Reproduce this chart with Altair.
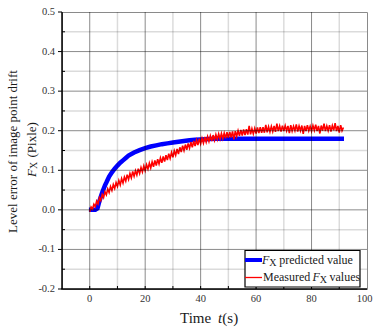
import altair as alt
import pandas as pd

# ---- data ----
BLUE_T = [-0.3, 0, 1, 2, 2.8, 3.4, 4, 4.6, 5.5, 6, 7, 8, 9, 10, 11, 12, 13, 14, 16, 18,
          20, 22, 24, 26, 28, 30, 32, 34, 36, 38, 40, 43, 46, 50, 91.7]
BLUE_V = [0, 0, 0, 0, 0.004, 0.02, 0.033, 0.046, 0.062, 0.069, 0.084, 0.095, 0.104, 0.112,
          0.119, 0.125, 0.131, 0.137, 0.145, 0.151, 0.156, 0.160, 0.163, 0.166, 0.168,
          0.170, 0.172, 0.174, 0.176, 0.177, 0.178, 0.179, 0.180, 0.180, 0.180]

RED_V = [
    -0.005, 0.007, 0.002, 0.014, 0.008, 0.022, 0.015, 0.031, 0.024, 0.039,
    0.031, 0.046, 0.038, 0.053, 0.044, 0.059, 0.049, 0.064, 0.054, 0.069,
    0.059, 0.074, 0.063, 0.079, 0.068, 0.083, 0.073, 0.089, 0.077, 0.092,
    0.081, 0.097, 0.085, 0.099, 0.088, 0.104, 0.092, 0.107, 0.096, 0.111,
    0.099, 0.114, 0.103, 0.118, 0.106, 0.121, 0.109, 0.125, 0.112, 0.128,
    0.116, 0.131, 0.119, 0.135, 0.122, 0.138, 0.126, 0.142, 0.130, 0.145,
    0.133, 0.149, 0.138, 0.154, 0.141, 0.158, 0.146, 0.162, 0.150, 0.165,
    0.152, 0.168, 0.156, 0.171, 0.158, 0.174, 0.161, 0.176, 0.164, 0.180,
    0.167, 0.181, 0.169, 0.184, 0.171, 0.185, 0.173, 0.187, 0.174, 0.189,
    0.176, 0.190, 0.178, 0.192, 0.179, 0.193, 0.180, 0.194, 0.181, 0.196,
    0.182, 0.197, 0.183, 0.198, 0.178, 0.199, 0.186, 0.200, 0.187, 0.202,
    0.188, 0.203, 0.189, 0.204, 0.190, 0.212, 0.191, 0.205, 0.192, 0.206,
    0.193, 0.208, 0.194, 0.209, 0.195, 0.209, 0.195, 0.215, 0.196, 0.210,
    0.197, 0.211, 0.198, 0.212, 0.197, 0.218, 0.199, 0.212, 0.198, 0.213,
    0.199, 0.213, 0.200, 0.212, 0.194, 0.214, 0.199, 0.211, 0.200, 0.216,
    0.198, 0.212, 0.200, 0.213, 0.192, 0.212, 0.199, 0.214, 0.200, 0.211,
    0.199, 0.213, 0.201, 0.215, 0.199, 0.212, 0.193, 0.213, 0.200, 0.218,
    0.199, 0.212, 0.200, 0.214, 0.198, 0.213, 0.201, 0.219, 0.199, 0.212,
    0.195, 0.214, 0.200, 0.208,
]
RED_STEP = 0.5  # sampling interval in seconds
RED_T = [i * RED_STEP for i in range(len(RED_V))]

X_TICKS = [0, 20, 40, 60, 80]
X_LABELS = ["0", "20", "40", "60", "80"]
X_LAST_TICK = [100]
X_LAST_LABEL = ["100"]
Y_TICKS = [-0.2, -0.1, 0.0, 0.1, 0.2, 0.3, 0.4, 0.5]
Y_LABELS = ["-0.2", "-0.1", "0.0", "0.1", "0.2", "0.3", "0.4", "0.5"]
GRID_MAJOR_X = [0, 20, 40, 60, 80]
GRID_MINOR_X = [10, 30, 50, 70, 90]
GRID_MAJOR_Y = [-0.1, 0.0, 0.1, 0.2, 0.3, 0.4]
GRID_MINOR_Y = [-0.15, -0.05, 0.05, 0.15, 0.25, 0.35, 0.45]
X_INNER_TICKS = [0, 10, 20, 30, 40, 50, 60, 70, 80, 90]

FONT = "Liberation Serif"
W, H = 305, 277
MAJOR = "#8a8a8a"

xs = alt.Scale(domain=[-10, 100], nice=False, zero=False)
ys = alt.Scale(domain=[-0.2, 0.5], nice=False, zero=False)


def XF(f):
    return alt.X(f, scale=xs, axis=None)


def YF(f):
    return alt.Y(f, scale=ys, axis=None)


blue_df = pd.DataFrame({"t": BLUE_T, "v": BLUE_V})
red_df = pd.DataFrame({"t": RED_T, "v": RED_V})
one = pd.DataFrame({"a": [0]})

blue = alt.Chart(blue_df).mark_line(color="#0000ff", strokeWidth=4.5, strokeCap="butt").encode(
    x=XF("t:Q"), y=YF("v:Q"))
red = alt.Chart(red_df).mark_line(color="#ff0000", strokeWidth=1.6).encode(
    x=XF("t:Q"), y=YF("v:Q"))

# grid lines: translucent black so the curves stay visible beneath them
minor_vx = alt.Chart(pd.DataFrame({"gx": GRID_MINOR_X})).mark_rule(
    color="black", strokeOpacity=0.14, strokeWidth=1.5).encode(
    x=XF("gx:Q"), y=alt.value(0), y2=alt.value(H))
minor_hy = alt.Chart(pd.DataFrame({"gy": GRID_MINOR_Y})).mark_rule(
    color="black", strokeOpacity=0.14, strokeWidth=1.5).encode(
    y=YF("gy:Q"), x=alt.value(0), x2=alt.value(W))
major_vx = alt.Chart(pd.DataFrame({"gx": GRID_MAJOR_X})).mark_rule(
    color="black", strokeOpacity=0.46, strokeWidth=1).encode(
    x=XF("gx:Q"), y=alt.value(0), y2=alt.value(H))
major_hy = alt.Chart(pd.DataFrame({"gy": GRID_MAJOR_Y})).mark_rule(
    color="black", strokeOpacity=0.46, strokeWidth=1).encode(
    y=YF("gy:Q"), x=alt.value(0), x2=alt.value(W))

# axis lines, ticks and tick labels
left_dom = alt.Chart(one).mark_rule(color="black", strokeWidth=1.5).encode(
    x=alt.value(0), y=alt.value(0), y2=alt.value(H))
bottom_dom = alt.Chart(one).mark_rule(color="black", strokeWidth=1.5).encode(
    x=alt.value(-0.75), x2=alt.value(W), y=alt.value(H))
y_major_ticks = alt.Chart(pd.DataFrame({"yt": Y_TICKS})).mark_rule(
    color="black", strokeWidth=1).encode(y=YF("yt:Q"), x=alt.value(-4), x2=alt.value(0))
y_minor_ticks = alt.Chart(pd.DataFrame({"my": GRID_MINOR_Y})).mark_rule(
    color="black", strokeWidth=1).encode(y=YF("my:Q"), x=alt.value(0), x2=alt.value(3))
x_inner_ticks = alt.Chart(pd.DataFrame({"mx": X_INNER_TICKS})).mark_rule(
    color="black", strokeWidth=1).encode(x=XF("mx:Q"), y=alt.value(H - 3), y2=alt.value(H))

y_labels = alt.Chart(pd.DataFrame({"yt": Y_TICKS, "lab": Y_LABELS})).mark_text(
    font=FONT, fontSize=10.5, color="#333", align="right", baseline="middle").encode(
    y=YF("yt:Q"), x=alt.value(-7), text="lab:N")
x_labels = alt.Chart(pd.DataFrame({"xt": X_TICKS, "lab": X_LABELS})).mark_text(
    font=FONT, fontSize=10.5, color="#333", align="center", baseline="top").encode(
    x=XF("xt:Q"), y=alt.value(H + 5), text="lab:N")
x_last_label = alt.Chart(pd.DataFrame({"xt": X_LAST_TICK, "lab": X_LAST_LABEL})).mark_text(
    font=FONT, fontSize=10.5, color="#333", align="center", baseline="top", dx=-2.5).encode(
    x=XF("xt:Q"), y=alt.value(H + 5), text="lab:N")


def txt(s, x, y, size, angle=0, italic=False, align="left", baseline="alphabetic", color="#1a1a1a"):
    kw = dict(text=s, font=FONT, fontSize=size, align=align, baseline=baseline, color=color)
    if angle:
        kw["angle"] = angle
    if italic:
        kw["fontStyle"] = "italic"
    return alt.Chart(one).mark_text(**kw).encode(x=alt.value(x), y=alt.value(y))


# legend
leg_box = alt.Chart(one).mark_rect(fill="white", stroke="black", strokeWidth=1.2).encode(
    x=alt.value(183), x2=alt.value(298), y=alt.value(238.5), y2=alt.value(275))
leg_blue = alt.Chart(one).mark_rule(color="#0000ff", strokeWidth=4).encode(
    x=alt.value(183), x2=alt.value(200), y=alt.value(248))
leg_red = alt.Chart(one).mark_rule(color="#ff0000", strokeWidth=1.3).encode(
    x=alt.value(183), x2=alt.value(200), y=alt.value(265.5))
leg_texts = [
    txt("F", 200, 251.5, 12, italic=True),
    txt("X", 207.3, 253.5, 10),
    txt("predicted value", 217.3, 251.5, 12),
    txt("Measured", 201, 269, 12),
    txt("F", 250.5, 269, 12, italic=True),
    txt("X", 257.8, 271, 10),
    txt("values", 267.5, 269, 12),
]

# axis titles
titles = [
    txt("Level error of image point drift", -49, 139.5, 13, angle=270, align="center", baseline="middle"),
    txt("F", -30, 165, 13, angle=270, italic=True, baseline="middle"),
    txt("X", -28, 157, 10, angle=270, baseline="middle"),
    txt("(Pixle)", -30, 145.5, 13, angle=270, baseline="middle"),
    txt("Time", 118, 311, 15),
    txt("t", 156, 311, 15, italic=True),
    txt("(s)", 160.3, 311, 15),
]

chart = alt.layer(
    blue, red, minor_vx, minor_hy, major_vx, major_hy,
    left_dom, bottom_dom, y_major_ticks, y_minor_ticks, x_inner_ticks,
    y_labels, x_labels, x_last_label,
    leg_box, leg_blue, leg_red, *leg_texts, *titles,
).properties(
    width=W, height=H,
    padding={"left": 62, "top": 12, "right": 6, "bottom": 38},
    autosize=alt.AutoSizeParams(type="none"),
).configure_view(stroke=MAJOR, strokeWidth=1)

chart.save("out.html", embed_options={"renderer": "svg", "actions": False})
